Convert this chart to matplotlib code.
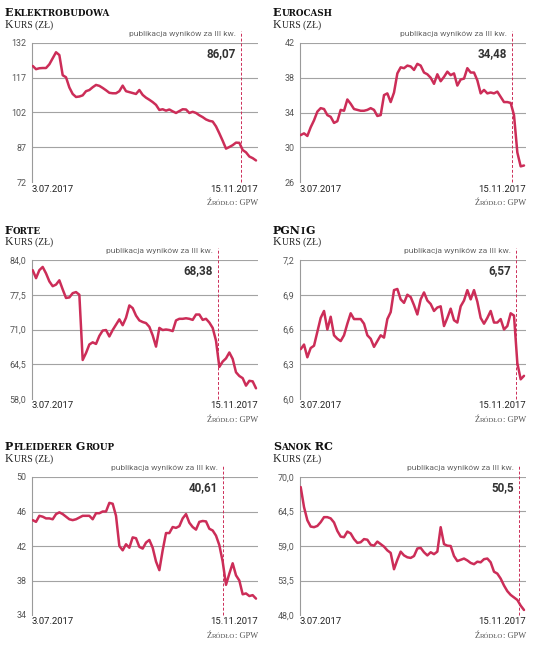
import numpy as np
import pandas as pd
import matplotlib
matplotlib.use("Agg")
import matplotlib.pyplot as plt
from matplotlib import font_manager as fm
from matplotlib.offsetbox import TextArea, HPacker, AnnotationBbox

_names = {f.name for f in fm.fontManager.ttflist}
def pick(*cands):
    for c in cands:
        if c in _names:
            return c
    return "DejaVu Sans"

SANS = pick("Roboto", "Liberation Sans", "DejaVu Sans")
SERIF = pick("Liberation Serif", "DejaVu Serif")
SERIF_T = pick("DejaVu Serif", "Liberation Serif")

# ---------------- data ----------------
start_date = "2017-07-03"
end_date = "2017-11-15"
n_points = 68

elektro = [122.1, 120.7, 121.1, 121.2, 121.2, 122.8, 125.4, 128.0, 126.8, 118.1,
           117.2, 112.8, 110.0, 108.7, 108.9, 109.4, 111.2, 111.7, 112.9, 113.9,
           113.5, 112.6, 111.6, 110.5, 110.3, 110.3, 111.2, 113.6, 111.2, 110.8,
           110.4, 110.0, 111.7, 109.6, 108.4, 107.5, 106.5, 105.3, 103.1, 103.4,
           102.8, 103.3, 102.5, 101.8, 102.6, 103.4, 103.3, 101.8, 102.3, 101.8,
           100.8, 100.0, 99.0, 98.4, 98.1, 96.0, 93.0, 89.8, 86.4, 87.1,
           87.9, 89.0, 88.9, 85.8, 84.8, 83.0, 82.3, 81.3]
eurocash = [31.4, 31.6, 31.3, 32.3, 33.1, 34.1, 34.5, 34.4, 33.7, 33.5,
            32.8, 33.0, 34.3, 34.2, 35.5, 35.0, 34.4, 34.3, 34.2, 34.2,
            34.3, 34.5, 34.3, 33.6, 33.7, 36.0, 36.2, 35.2, 36.3, 38.5,
            39.2, 39.1, 39.4, 39.3, 38.9, 39.6, 39.4, 38.6, 38.4, 38.0,
            37.3, 38.4, 37.6, 38.1, 38.7, 38.3, 38.5, 37.1, 37.8, 37.9,
            39.1, 38.6, 38.6, 37.7, 36.2, 36.6, 36.2, 36.3, 36.2, 36.4,
            35.8, 35.2, 35.2, 35.1, 33.7, 29.4, 27.8, 27.9]
forte = [82.1, 80.6, 82.1, 82.7, 81.5, 80.0, 79.1, 79.4, 80.2, 78.5,
         76.9, 77.0, 77.8, 78.0, 77.5, 65.3, 66.6, 68.2, 68.6, 68.3,
         69.8, 70.8, 70.9, 69.7, 70.9, 71.9, 72.9, 71.8, 73.2, 75.5,
         75.0, 73.6, 72.7, 72.4, 72.2, 71.5, 69.9, 67.8, 71.3, 70.9,
         71.0, 70.9, 70.7, 72.7, 73.0, 73.0, 73.1, 73.0, 72.8, 73.8,
         73.8, 72.8, 73.0, 72.3, 71.3, 68.9, 64.0, 65.0, 65.6, 66.7,
         65.5, 63.0, 62.3, 61.9, 60.5, 61.4, 61.3, 60.0]
pgnig = [6.43, 6.47, 6.36, 6.44, 6.46, 6.58, 6.70, 6.76, 6.60, 6.71,
         6.55, 6.52, 6.50, 6.55, 6.65, 6.74, 6.69, 6.69, 6.69, 6.65,
         6.55, 6.52, 6.45, 6.50, 6.55, 6.53, 6.69, 6.75, 6.94, 6.95,
         6.86, 6.83, 6.90, 6.88, 6.81, 6.73, 6.86, 6.92, 6.85, 6.82,
         6.76, 6.79, 6.80, 6.63, 6.70, 6.78, 6.68, 6.66, 6.80, 6.85,
         6.94, 6.86, 6.94, 6.84, 6.70, 6.65, 6.70, 6.76, 6.66, 6.66,
         6.69, 6.60, 6.63, 6.74, 6.72, 6.31, 6.17, 6.20]
pfleiderer = [45.0, 44.8, 45.5, 45.4, 45.2, 45.2, 45.1, 45.7, 45.9, 45.7,
              45.4, 45.1, 45.0, 45.1, 45.3, 45.5, 45.5, 45.5, 45.1, 45.8,
              45.8, 46.0, 46.0, 47.0, 46.9, 45.5, 42.0, 41.5, 42.2, 41.8,
              43.0, 42.9, 41.9, 41.7, 42.4, 42.7, 41.8, 40.2, 39.2, 41.5,
              43.5, 43.5, 44.2, 44.1, 44.3, 45.2, 45.7, 44.7, 44.2, 43.9,
              44.8, 44.9, 44.85, 44.0, 43.8, 43.2, 42.1, 40.2, 37.5, 38.8,
              40.0, 38.6, 38.0, 36.4, 36.5, 36.2, 36.3, 35.9]
sanok = [68.4, 65.2, 63.1, 62.1, 62.0, 62.2, 62.8, 63.6, 63.6, 63.4,
         62.75, 61.4, 60.5, 60.4, 61.3, 61.0, 60.1, 59.5, 59.6, 60.1,
         60.0, 59.2, 59.05, 59.7, 59.3, 58.9, 58.3, 57.9, 55.3, 56.8,
         58.1, 57.5, 57.2, 57.1, 57.4, 58.6, 58.7, 58.0, 57.5, 58.0,
         57.7, 58.1, 62.0, 59.3, 59.05, 59.0, 57.4, 56.6, 56.8, 57.0,
         56.7, 56.3, 56.1, 56.5, 56.4, 56.9, 57.0, 56.4, 54.9, 54.6,
         53.8, 52.7, 51.8, 51.2, 50.8, 50.4, 49.5, 48.8]

# title parts: (text, is_big)
titles = [
    [("E", True), ("KLEKTROBUDOWA", False)],
    [("E", True), ("UROCASH", False)],
    [("F", True), ("ORTE", False)],
    [("PGN", True), ("I", False), ("G", True)],
    [("P", True), ("FLEIDERER", False), (" G", True), ("ROUP", False)],
    [("S", True), ("ANOK", False), (" RC", True)],
]
series = [elektro, eurocash, forte, pgnig, pfleiderer, sanok]
yticks = [[72, 87, 102, 117, 132],
          [26, 30, 34, 38, 42],
          [58.0, 64.5, 71.0, 77.5, 84.0],
          [6.0, 6.3, 6.6, 6.9, 7.2],
          [34, 38, 42, 46, 50],
          [48.0, 53.5, 59.0, 64.5, 70.0]]
ytick_labels = [["72", "87", "102", "117", "132"],
                ["26", "30", "34", "38", "42"],
                ["58,0", "64,5", "71,0", "77,5", "84,0"],
                ["6,0", "6,3", "6,6", "6,9", "7,2"],
                ["34", "38", "42", "46", "50"],
                ["48,0", "53,5", "59,0", "64,5", "70,0"]]
pub_dates = ["2017-11-06", "2017-11-08", "2017-10-23",
             "2017-11-10", "2017-10-26", "2017-11-12"]
pub_values = ["86,07", "34,48", "68,38", "6,57", "40,61", "50,5"]
pub_text = "publikacja wyników za III kw."
date_left = "3.07.2017"
date_right = "15.11.2017"

# ---------------- style ----------------
RED = "#cc2d58"
GRID = "#a3a3a3"
W, H = 536, 654
fig = plt.figure(figsize=(W / 100, H / 100), dpi=100)
fig.patch.set_facecolor("white")

cols = [32, 300]
rows = [(43, 182), (260, 399), (477, 615)]
pw = 226

dates = pd.date_range(start_date, end_date, periods=n_points)


def smallcaps(ax, parts, xy, xybox, align, big, small, weight, color, family):
    boxes = []
    for txt, isbig in parts:
        boxes.append(TextArea(txt, textprops=dict(fontsize=big if isbig else small,
                                                  fontfamily=family, fontweight=weight,
                                                  color=color)))
    pack = HPacker(children=boxes, align="baseline", pad=0, sep=0)
    ab = AnnotationBbox(pack, xy, xycoords="axes fraction", xybox=xybox,
                        boxcoords="offset pixels", box_alignment=align,
                        frameon=False, pad=0, annotation_clip=False)
    ax.add_artist(ab)


for i, vals in enumerate(series):
    r, c = divmod(i, 2)
    left = cols[c]
    top, bot = rows[r]
    ax = fig.add_axes([left / W, 1 - bot / H, pw / W, (bot - top) / H])
    ax.plot(dates, vals, color=RED, lw=1.8, solid_joinstyle="round",
            solid_capstyle="round", zorder=3)
    ax.set_ylim(yticks[i][0], yticks[i][-1])
    ax.set_xlim(dates[0] - pd.Timedelta(hours=10), dates[-1] + pd.Timedelta(hours=29))
    ax.set_yticks(yticks[i])
    ax.set_yticklabels(ytick_labels[i], fontfamily=SANS, fontsize=6.4, color="#555555")
    ax.tick_params(axis="y", length=0, pad=4)
    ax.set_xticks([])
    for s in ["top", "right", "bottom"]:
        ax.spines[s].set_visible(False)
    ax.spines["left"].set_color("#9a9a9a")
    ax.spines["left"].set_linewidth(0.8)
    for t in yticks[i][1:]:
        ax.axhline(t, color=GRID, lw=0.8, zorder=1)
    pd_ = pd.Timestamp(pub_dates[i])
    ax.axvline(pd_, ymin=0, ymax=1 + 12 / (bot - top), color=RED, lw=0.7,
               ls=(0, (3, 2)), clip_on=False, zorder=2)
    ax.annotate(pub_text, xy=(pd_, 1), xycoords=("data", "axes fraction"),
                xytext=(-5, 9), textcoords="offset pixels", ha="right", va="center",
                fontfamily=SANS, fontsize=6.0, color="#666666", annotation_clip=False)
    ax.annotate(pub_values[i], xy=(pd_, 1), xycoords=("data", "axes fraction"),
                xytext=(-5, -11), textcoords="offset pixels", ha="right", va="center",
                fontfamily=SANS, fontsize=8.4, fontweight="bold", color="#333333",
                annotation_clip=False)
    ax.annotate(date_left, xy=(0, 0), xycoords="axes fraction", xytext=(0, -7),
                textcoords="offset pixels", ha="left", va="center",
                fontfamily=SANS, fontsize=6.8, color="#222222", annotation_clip=False)
    ax.annotate(date_right, xy=(1, 0), xycoords="axes fraction", xytext=(0, -7),
                textcoords="offset pixels", ha="right", va="center",
                fontfamily=SANS, fontsize=6.8, color="#222222", annotation_clip=False)
    # titles
    smallcaps(ax, titles[i], (0, 1), (-27, 24.5), (0, 0), 8.0, 6.3, "bold", "#111111",
              SERIF_T)
    smallcaps(ax, [("K", True), ("URS (ZŁ)", False)], (0, 1), (-27, 12.0), (0, 0),
              8.6, 6.9, "normal", "#222222", SERIF)
    smallcaps(ax, [("Ź", True), ("RÓDŁO", False), (": GPW", True)], (1, 0), (0, -21),
              (1, 0.5), 6.0, 4.9, "normal", "#555555", SERIF)

fig.savefig("out.png", dpi=100, facecolor="white")
